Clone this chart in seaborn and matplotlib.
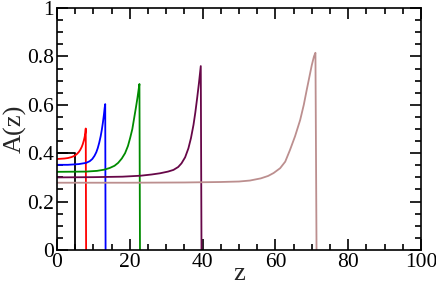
import pandas as pd
import matplotlib
matplotlib.use("Agg")
import matplotlib.pyplot as plt
import seaborn as sns
from matplotlib.ticker import MultipleLocator, FormatStrFormatter

# values
black_z = [0, 4.95, 4.95]
black_A = [0.400, 0.400, 0.0]

red_z = [0, 1, 2, 3, 4, 4.5, 5, 5.5, 6, 6.4, 6.8, 7.1, 7.4, 7.6, 7.8, 7.9, 8.0]
red_A = [0.376, 0.377, 0.378, 0.380, 0.384, 0.387, 0.391, 0.397, 0.405, 0.414,
         0.426, 0.438, 0.454, 0.467, 0.485, 0.502, 0.0]

blue_z = [0, 3, 6, 8, 9, 9.7, 10.3, 10.8, 11.2, 11.6, 12.0, 12.3, 12.6, 12.9,
          13.1, 13.25, 13.35]
blue_A = [0.352, 0.352, 0.355, 0.360, 0.367, 0.376, 0.389, 0.404, 0.421, 0.443,
          0.470, 0.495, 0.525, 0.560, 0.588, 0.603, 0.0]

green_z = [0, 8, 11, 13, 14.5, 15.8, 16.8, 17.8, 18.7, 19.5, 20.1, 20.7, 21.2,
           21.7, 22.1, 22.4, 22.65, 22.8]
green_A = [0.323, 0.324, 0.327, 0.332, 0.339, 0.348, 0.360, 0.378, 0.400, 0.430,
           0.463, 0.500, 0.545, 0.590, 0.628, 0.660, 0.686, 0.0]

maroon_z = [0, 10, 18, 23, 26, 28.3, 30.5, 32.0, 33.3, 34.2, 35.2, 36.1, 36.8,
            37.5, 38.0, 38.5, 39.0, 39.5, 39.7]
maroon_A = [0.300, 0.301, 0.303, 0.307, 0.312, 0.317, 0.324, 0.331, 0.343, 0.358,
            0.383, 0.420, 0.462, 0.517, 0.568, 0.627, 0.690, 0.760, 0.0]

rosy_z = [0, 20, 35, 45, 50, 53, 56, 58, 59.5, 61.3, 62.7, 64.0, 65.4, 66.8,
          67.8, 68.6, 69.4, 70.0, 70.6, 71.0, 71.3]
rosy_A = [0.278, 0.278, 0.279, 0.281, 0.283, 0.287, 0.296, 0.306, 0.318, 0.338,
          0.365, 0.413, 0.470, 0.537, 0.600, 0.661, 0.720, 0.764, 0.800, 0.815, 0.0]

curves = {
    "black": (black_z, black_A),
    "red": (red_z, red_A),
    "blue": (blue_z, blue_A),
    "green": (green_z, green_A),
    "maroon": (maroon_z, maroon_A),
    "rosy": (rosy_z, rosy_A),
}
colors = {
    "black": "#000000",
    "red": "#ff0000",
    "blue": "#0000ff",
    "green": "#008b00",
    "maroon": "#670748",
    "rosy": "#bc8f8f",
}

frames = []
for name, (zs, As) in curves.items():
    frames.append(pd.DataFrame({"z": zs, "A": As, "curve": name}))
df = pd.concat(frames, ignore_index=True)

sns.set_style("ticks")
plt.rcParams["font.family"] = ["Liberation Serif", "DejaVu Serif"]

fig = plt.figure(figsize=(4.36, 2.86), dpi=100)
ax = fig.add_axes([0.1307, 0.1259, 0.8349, 0.8461])

sns.lineplot(data=df, x="z", y="A", hue="curve", palette=colors, sort=False,
             estimator=None, units="curve", legend=False, linewidth=1.3, ax=ax)

ax.set_xlim(0, 100)
ax.set_ylim(0, 1)
ax.xaxis.set_major_locator(MultipleLocator(20))
ax.xaxis.set_minor_locator(MultipleLocator(5))
ax.yaxis.set_major_locator(MultipleLocator(0.2))
ax.yaxis.set_minor_locator(MultipleLocator(0.05))
ax.yaxis.set_major_formatter(FormatStrFormatter("%g"))
ax.tick_params(which="major", direction="in", top=True, right=True,
               color="black", labelcolor="black", labelsize=15.5, pad=2,
               length=8, width=1.2)
ax.tick_params(which="minor", direction="in", top=True, right=True,
               color="black", length=4.5, width=1.2)
for s in ax.spines.values():
    s.set_linewidth(1.2)
    s.set_color("black")
ax.set_xlabel("z", fontsize=19, labelpad=-6)
ax.set_ylabel("A(z)", fontsize=19, labelpad=0)

fig.savefig("out.png", dpi=100)
